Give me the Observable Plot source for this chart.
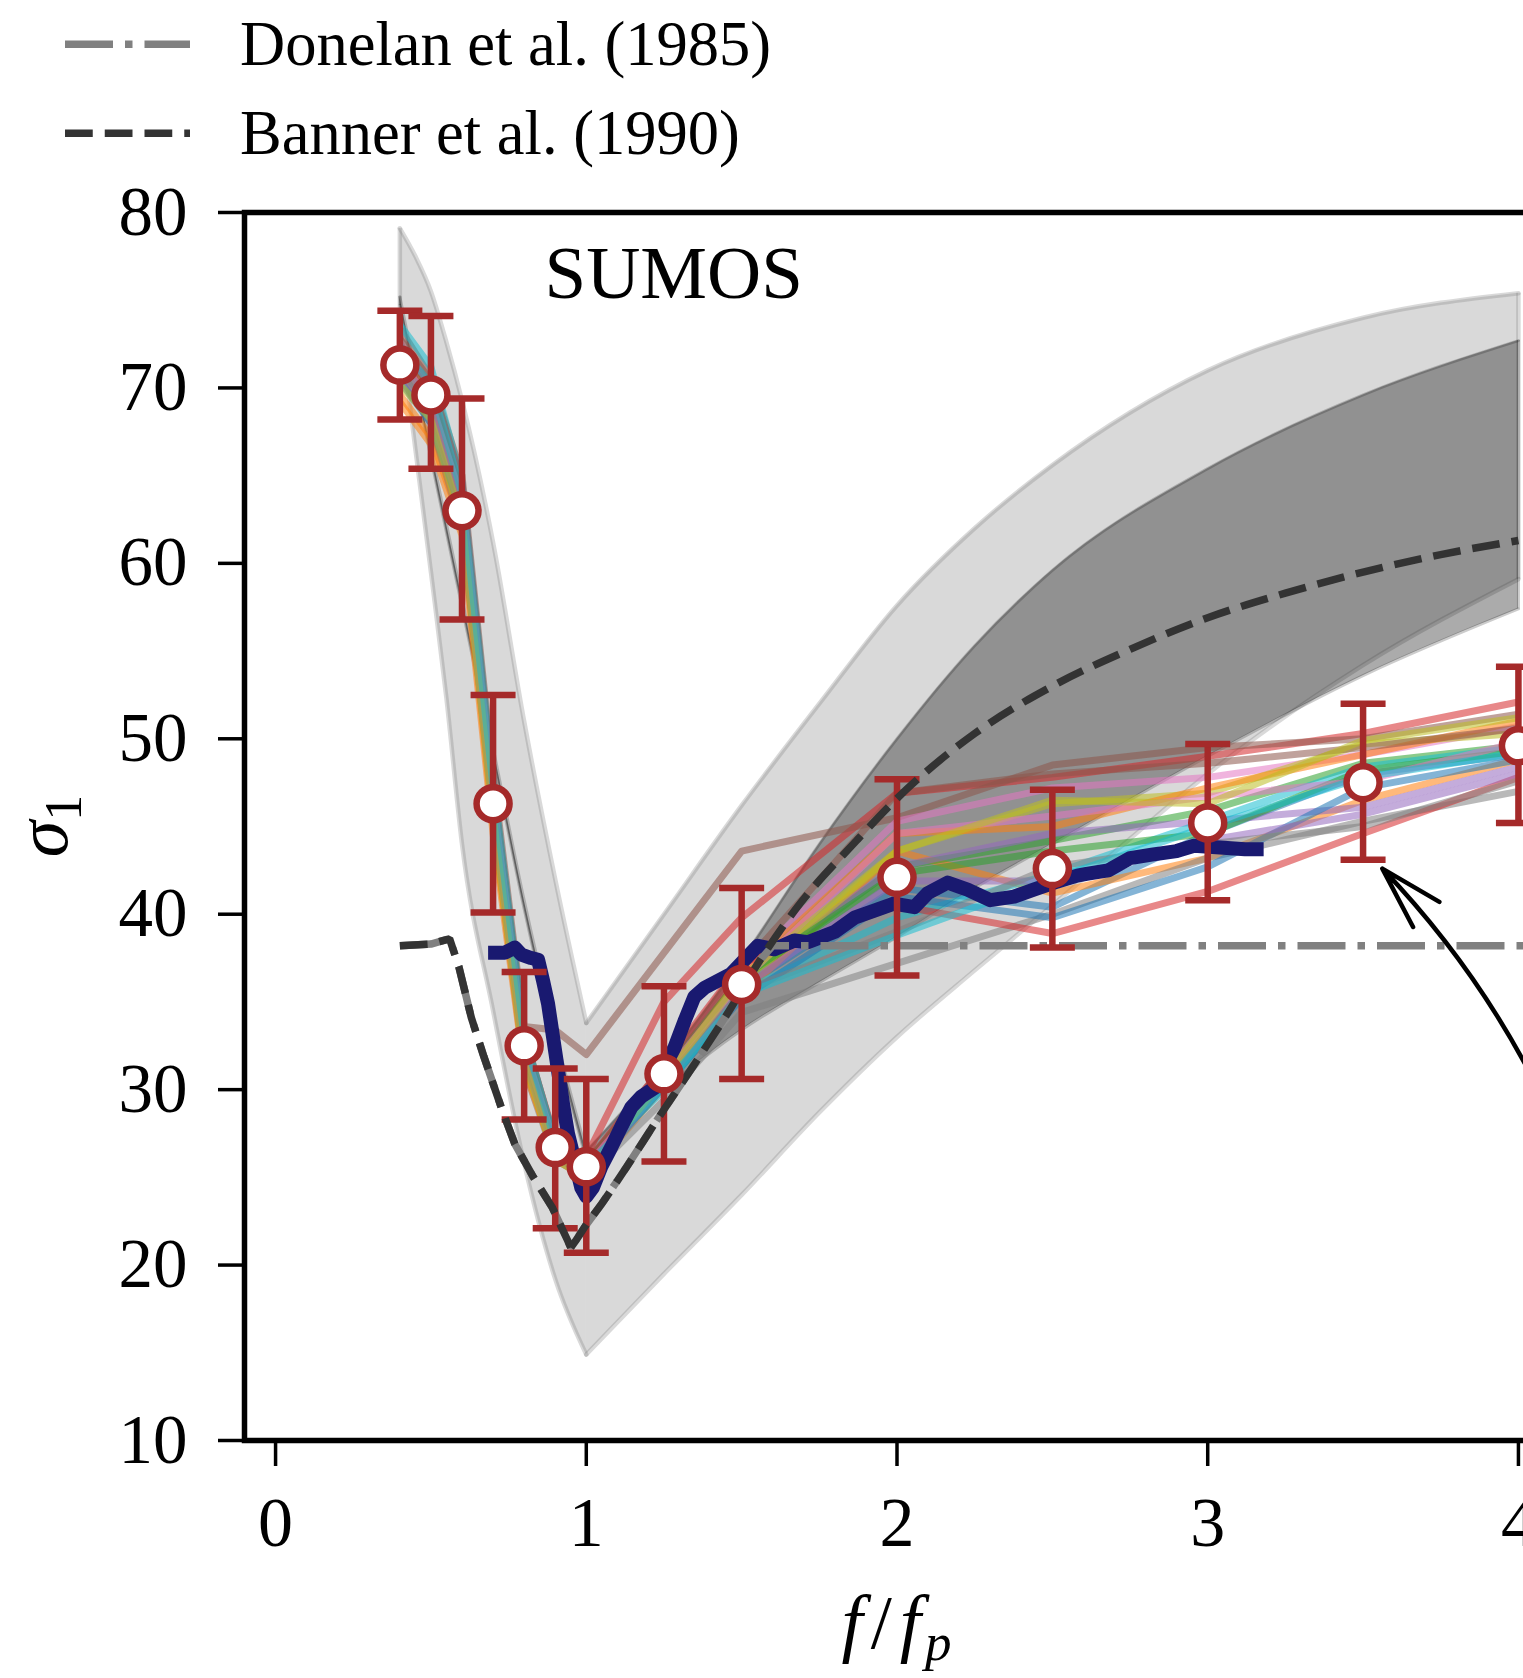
<!DOCTYPE html>
<html><head><meta charset="utf-8">
<script src="https://cdn.jsdelivr.net/npm/d3@7"></script>
<script src="https://cdn.jsdelivr.net/npm/@observablehq/plot@0.6"></script>
<style>
html,body{margin:0;padding:0;background:#fff;overflow:hidden;width:1523px;height:1678px}
#legend svg,#chart svg{display:block}
</style></head><body>
<div id="legend"></div><div id="chart"></div>
<script>
// ---------- data ----------
const xTicks = [0, 1, 2, 3, 4];
const yTicks = [10, 20, 30, 40, 50, 60, 70, 80];
const panelLabel = ["SUMOS"];
const legendLabels = ["Donelan et al. (1985)", "Banner et al. (1990)"];

// outer (light) uncertainty band
const lightF     = [0.4, 0.45, 0.5, 0.55, 0.6, 0.7, 0.8, 0.9, 1.0, 1.25, 1.5, 1.75, 2.0, 2.25, 2.5, 2.75, 3.0, 3.5, 4.0];
const lightLower = [73.6, 66.5, 59.5, 52.3, 44.0, 34.5, 25.8, 19.2, 14.9, 19.5, 24.0, 28.7, 33.0, 36.8, 40.5, 44.3, 48.0, 54.2, 59.1];
const lightUpper = [79.1, 77.5, 75.5, 72.6, 69.3, 61.2, 51.0, 42.0, 33.8, 40.0, 46.2, 52.0, 57.6, 62.0, 65.6, 68.6, 71.0, 74.0, 75.4];

// inner (dark) band
const darkF     = [0.4, 0.5, 0.6, 0.7, 0.8, 0.9, 1.0, 1.25, 1.5, 1.75, 2.0, 2.25, 2.5, 3.0, 3.5, 4.0];
const darkLower = [74.7, 66.0, 57.5, 49.0, 40.3, 32.7, 26.0, 30.0, 33.4, 36.1, 38.7, 41.5, 44.0, 49.0, 53.6, 57.4];
const darkUpper = [75.2, 66.5, 58.0, 49.5, 40.8, 33.2, 26.5, 31.5, 37.4, 44.0, 50.0, 55.3, 59.6, 65.4, 69.6, 72.7];

// Banner et al. (1990)
const bannerF     = [0.4, 0.5, 0.56, 0.59, 0.63, 0.67, 0.73, 0.77, 0.83, 0.89, 0.94, 0.95, 0.97, 1.0, 1.05, 1.13, 1.24, 1.35, 1.46, 1.56, 1.67, 1.87, 2.0, 2.25, 2.5, 2.75, 3.0, 3.25, 3.5, 3.75, 4.0];
const bannerSigma = [38.2, 38.3, 38.6, 37.0, 34.1, 31.9, 28.8, 26.9, 25.0, 23.3, 21.4, 21.0, 21.5, 22.3, 23.5, 25.6, 28.6, 31.5, 34.5, 37.4, 40.2, 44.2, 46.6, 50.3, 53.0, 55.1, 56.9, 58.3, 59.5, 60.5, 61.3];

// Donelan et al. (1985)
const donelanF     = [0.4, 0.5, 0.56, 0.59, 0.63, 0.67, 0.73, 0.77, 0.83, 0.89, 0.94, 0.95, 0.97, 1.0, 1.05, 1.13, 1.24, 1.35, 1.46, 1.56, 1.6, 4.6];
const donelanSigma = [38.2, 38.3, 38.6, 37.0, 34.1, 31.9, 28.8, 26.9, 25.0, 23.3, 21.4, 21.0, 21.5, 22.3, 23.5, 25.6, 28.6, 31.5, 34.5, 37.4, 38.2, 38.2];

// SUMOS mean with error bars
const fRatio    = [0.4, 0.5, 0.6, 0.7, 0.8, 0.9, 1.0, 1.25, 1.5, 2.0, 2.5, 3.0, 3.5, 4.0];
const meanSigma = [71.3, 69.6, 63.0, 46.3, 32.5, 26.7, 25.6, 30.9, 36.0, 42.1, 42.6, 45.2, 47.5, 49.6];
const errLow    = [68.2, 65.4, 56.8, 40.1, 28.3, 22.1, 20.7, 25.9, 30.6, 36.5, 38.1, 40.8, 43.1, 45.2];
const errHigh   = [74.4, 74.1, 69.4, 52.5, 36.7, 31.2, 30.6, 35.9, 41.5, 47.7, 47.1, 49.7, 52.0, 54.1];

// individual profiles (same f/fp as fRatio)
const ensembleColors = ["#1f77b4","#ff7f0e","#2ca02c","#d62728","#9467bd","#8c564b","#e377c2","#7f7f7f","#bcbd22","#17becf",
                        "#1f77b4","#ff7f0e","#2ca02c","#d62728","#9467bd","#8c564b","#e377c2","#7f7f7f","#bcbd22","#17becf"];
const ensembleSigma = [
  [71.0,68.6,63.6,46.6,32.2,26.4,25.4,30.6,35.8,41.5,40.4,44.6,48.0,49.1],
  [69.6,67.2,62.2,45.2,31.6,26.0,25.0,30.2,35.4,43.6,41.2,43.2,46.5,48.8],
  [71.4,69.2,63.2,46.2,32.6,26.6,25.6,31.0,36.2,42.7,44.2,45.9,48.6,49.6],
  [72.2,70.2,64.2,47.2,33.0,27.2,26.2,35.0,39.8,46.9,47.8,49.0,50.3,52.1],
  [71.2,69.4,63.0,46.4,32.0,26.4,25.4,30.6,36.6,42.7,44.6,45.3,46.1,48.4],
  [73.4,70.6,65.0,48.0,33.6,33.4,32.0,37.8,43.6,45.5,48.5,49.5,50.0,51.4],
  [72.6,70.0,64.6,47.0,32.6,27.0,25.6,31.0,36.8,45.3,47.2,47.8,49.1,50.7],
  [70.6,68.0,62.6,45.6,31.2,26.0,25.0,29.4,34.4,37.2,40.0,43.2,45.3,47.0],
  [71.0,68.6,63.0,45.2,31.6,26.0,25.0,30.6,36.0,43.6,46.3,46.9,49.7,50.3],
  [73.6,71.2,64.6,47.6,33.2,27.0,25.6,30.0,35.6,39.8,42.3,45.3,48.4,49.5],
  [70.4,68.0,62.0,46.0,32.0,26.2,25.2,30.2,35.2,41.0,39.8,42.7,47.2,48.8],
  [69.2,66.8,61.6,44.6,31.2,26.2,25.2,30.6,36.6,44.6,45.0,47.2,49.1,51.0],
  [71.8,69.6,63.6,46.6,32.8,26.8,25.8,31.0,36.4,42.3,43.6,44.6,48.2,49.3],
  [72.0,69.8,63.8,47.0,32.8,27.0,25.8,31.4,37.2,40.5,38.9,41.3,44.6,47.8],
  [70.8,68.8,62.8,45.8,31.8,26.2,25.2,30.4,35.8,41.9,41.9,44.2,45.7,48.0],
  [72.8,70.4,64.6,47.4,33.2,27.0,25.8,31.2,37.0,46.9,48.0,48.6,49.5,50.6],
  [71.6,69.2,63.6,46.6,32.4,26.8,25.6,30.8,36.2,44.6,45.6,46.7,47.6,49.8],
  [71.2,68.8,63.2,46.2,32.2,26.6,25.4,30.4,35.6,39.0,42.7,44.0,45.0,47.6],
  [70.2,68.2,62.4,45.6,31.6,26.2,25.2,30.6,36.4,43.6,46.5,46.3,49.9,51.2],
  [72.4,70.2,64.0,47.2,33.0,27.0,25.6,30.2,35.4,38.8,42.0,45.0,47.8,49.2]
];

// thick navy profile
const navyF = [0.684,0.737,0.770,0.791,0.823,0.845,0.861,0.877,0.893,0.909,0.925,0.941,0.962,0.984,1.0,1.021,1.048,1.080,1.113,1.145,1.177,1.22,1.252,1.284,1.316,1.348,1.380,1.423,1.466,1.509,1.552,1.605,1.67,1.713,1.80,1.863,1.927,1.99,2.056,2.099,2.163,2.227,2.30,2.377,2.44,2.506,2.58,2.61,2.68,2.75,2.82,2.90,2.956,3.04,3.12,3.18];
const navySigma = [37.8,37.8,38.1,37.7,37.5,37.4,36.2,34.9,33.0,31.1,29.2,27.5,26.0,24.4,23.9,24.4,25.6,26.7,27.9,29.0,29.6,30.1,31.3,32.4,33.9,35.3,35.8,36.2,36.6,37.4,38.2,38.0,38.5,38.4,39.0,39.8,40.2,40.6,40.4,41.2,41.8,41.4,40.8,41.0,41.4,41.8,42.2,42.3,42.5,43.2,43.4,43.6,43.9,43.8,43.7,43.7];

// annotation arrow (tail off to the right, tip at the f/fp = 3.5 bar)
const arrowFrom = {f: 4.167, sigma: 25.95};
const arrowTo   = {f: 3.562, sigma: 42.6};

// ---------- tables ----------
const lightTable = lightF.map((f, i) => ({f, lo: lightLower[i], hi: lightUpper[i]}));
const darkTable  = darkF.map((f, i) => ({f, lo: darkLower[i], hi: darkUpper[i]}));
const bannerTable  = bannerF.map((f, i) => ({f, s: bannerSigma[i]}));
const donelanTable = donelanF.map((f, i) => ({f, s: donelanSigma[i]}));
const meanTable = fRatio.map((f, i) => ({f, m: meanSigma[i], lo: errLow[i], hi: errHigh[i]}));
const navyTable = navyF.map((f, i) => ({f, s: navySigma[i]}));
const arrowTable = [{f1: arrowFrom.f, s1: arrowFrom.sigma, f2: arrowTo.f, s2: arrowTo.sigma}];

const lightArms = [lightTable.filter(d => d.f <= 1), lightTable.filter(d => d.f >= 1)];
const darkArms  = [darkTable.filter(d => d.f <= 1), darkTable.filter(d => d.f >= 1)];
const bannerLeft  = bannerTable.filter(d => d.f <= 0.95);
const bannerRight = bannerTable.filter(d => d.f >= 0.95);

const RED = "#a52a2a";
const FONT = "'Liberation Serif','Times New Roman',serif";
const capSymbol = {draw(ctx) { ctx.moveTo(-22.5, 0); ctx.lineTo(22.5, 0); }};

// ---------- legend (above the plot) ----------
const leg = d3.select("#legend").append("svg").attr("width", 1523).attr("height", 170)
  .style("font-family", FONT);
const legStyles = [
  {stroke: "#808080", dash: "48,12,7.5,12"},
  {stroke: "#333333", dash: "27.75,12"}
];
legendLabels.forEach((lab, i) => {
  const yc = 44.3 + i * 89;
  leg.append("line").attr("x1", 65).attr("x2", 190).attr("y1", yc).attr("y2", yc)
    .attr("stroke", legStyles[i].stroke).attr("stroke-width", 7.5)
    .attr("stroke-dasharray", legStyles[i].dash).attr("stroke-linecap", "butt");
  leg.append("text").attr("x", 240).attr("y", yc + 21).attr("font-size", 62.5).attr("fill", "black").text(lab);
});

// ---------- plot ----------
function bandMarks(arms, fillColor, fillOpacity, edgeOpacity, edgeWidth) {
  const all = arms[0].concat(arms[1].slice(1));
  const marks = [];
  for (const arm of arms) {
    marks.push(Plot.areaY(arm, {x: "f", y1: "lo", y2: "hi", curve: "monotone-x",
      fill: fillColor, fillOpacity}));
  }
  for (const arm of arms) {
    for (const key of ["lo", "hi"]) {
      marks.push(Plot.line(arm, {x: "f", y: key, curve: "monotone-x", stroke: fillColor,
        strokeOpacity: edgeOpacity, strokeWidth: edgeWidth}));
    }
  }
  marks.push(Plot.ruleX([all[0], all[all.length - 1]], {x: "f", y1: "lo", y2: "hi",
    stroke: fillColor, strokeOpacity: edgeOpacity, strokeWidth: edgeWidth}));
  return marks;
}

const ensembleMarks = ensembleSigma.map((vals, k) =>
  Plot.line(fRatio.map((f, i) => ({f, s: vals[i]})), {
    x: "f", y: "s", stroke: ensembleColors[k], strokeOpacity: 0.55, strokeWidth: 7,
    strokeLinejoin: "round", strokeLinecap: "butt"
  })
);

const chart = Plot.plot({
  width: 1600, height: 1508,
  marginTop: 42, marginBottom: 238, marginLeft: 244, marginRight: 51,
  style: `max-width:none;font-family:${FONT};background:white;color:black;`,
  x: {domain: [-0.1, 4.1]},
  y: {domain: [10, 80]},
  marks: [
    ...bandMarks(lightArms, "gray", 0.3, 0.3, 4.5),
    ...bandMarks(darkArms, "black", 0.33, 0.2, 3),
    ...ensembleMarks,
    Plot.line(navyTable, {x: "f", y: "s", stroke: "#191970", strokeWidth: 14,
      strokeLinejoin: "round", strokeLinecap: "butt"}),
    Plot.line(donelanTable, {x: "f", y: "s", stroke: "#808080", strokeWidth: 7.5,
      strokeDasharray: "48,12,7.5,12", strokeLinecap: "butt", strokeLinejoin: "miter"}),
    Plot.ruleX(meanTable, {x: "f", y1: "lo", y2: "hi", stroke: RED, strokeWidth: 6.5}),
    Plot.dot(meanTable, {x: "f", y: "lo", symbol: capSymbol, r: 5, fill: "none", stroke: RED, strokeWidth: 6.5}),
    Plot.dot(meanTable, {x: "f", y: "hi", symbol: capSymbol, r: 5, fill: "none", stroke: RED, strokeWidth: 6.5}),
    Plot.line(bannerLeft, {x: "f", y: "s", stroke: "#333333", strokeWidth: 7.5,
      strokeDasharray: "27.75,12", strokeLinecap: "butt", strokeLinejoin: "miter"}),
    Plot.line(bannerRight, {x: "f", y: "s", curve: "monotone-x", stroke: "#333333", strokeWidth: 7.5,
      strokeDasharray: "27.75,12", strokeLinecap: "butt"}),
    Plot.dot(meanTable, {x: "f", y: "m", r: 16.5, fill: "white", stroke: RED, strokeWidth: 6.5}),
    Plot.arrow(arrowTable, {x1: "f1", y1: "s1", x2: "f2", y2: "s2", bend: -11,
      stroke: "black", strokeWidth: 4.5, headLength: 22, headAngle: 32}),
    Plot.text(panelLabel, {text: d => d, frameAnchor: "top-left", dx: 300, dy: 32,
      textAnchor: "start", lineAnchor: "top", fontSize: 75, fill: "black"}),
    Plot.axisY({ticks: yTicks, tickSize: 26, tickPadding: 31, fontSize: 69,
      strokeWidth: 3.5, label: null, tickFormat: d => String(d)}),
    Plot.axisX({ticks: xTicks, tickSize: 26, tickPadding: 30, fontSize: 70,
      strokeWidth: 3.5, label: null, tickFormat: d => String(d)}),
    Plot.frame({stroke: "black", strokeWidth: 5.5})
  ]
});
document.getElementById("chart").appendChild(chart);

// axis titles (math-style text)
const xs = chart.scale("x"), ys = chart.scale("y");
const cx = (xs.range[0] + xs.range[1]) / 2;
const cy = (ys.range[0] + ys.range[1]) / 2;
const sv = d3.select(chart);
const xl = sv.append("text").attr("x", cx).attr("y", ys.range[0] + 208)
  .attr("text-anchor", "middle").attr("font-size", 76).attr("font-family", FONT).attr("fill", "black");
xl.append("tspan").attr("font-style", "italic").text("f");
xl.append("tspan").attr("dx", 8).text("/");
xl.append("tspan").attr("dx", 8).attr("font-style", "italic").text("f");
xl.append("tspan").attr("dx", 4).attr("font-style", "italic").attr("font-size", 53).attr("dy", 12).text("p");

const yl = sv.append("text").attr("transform", `translate(${xs.range[0] - 177},${cy}) rotate(-90)`)
  .attr("text-anchor", "middle").attr("font-size", 74).attr("font-family", FONT).attr("fill", "black");
yl.append("tspan").attr("font-style", "italic").text("σ");
yl.append("tspan").attr("font-size", 52).attr("dy", 14).text("1");
</script>
</body></html>
